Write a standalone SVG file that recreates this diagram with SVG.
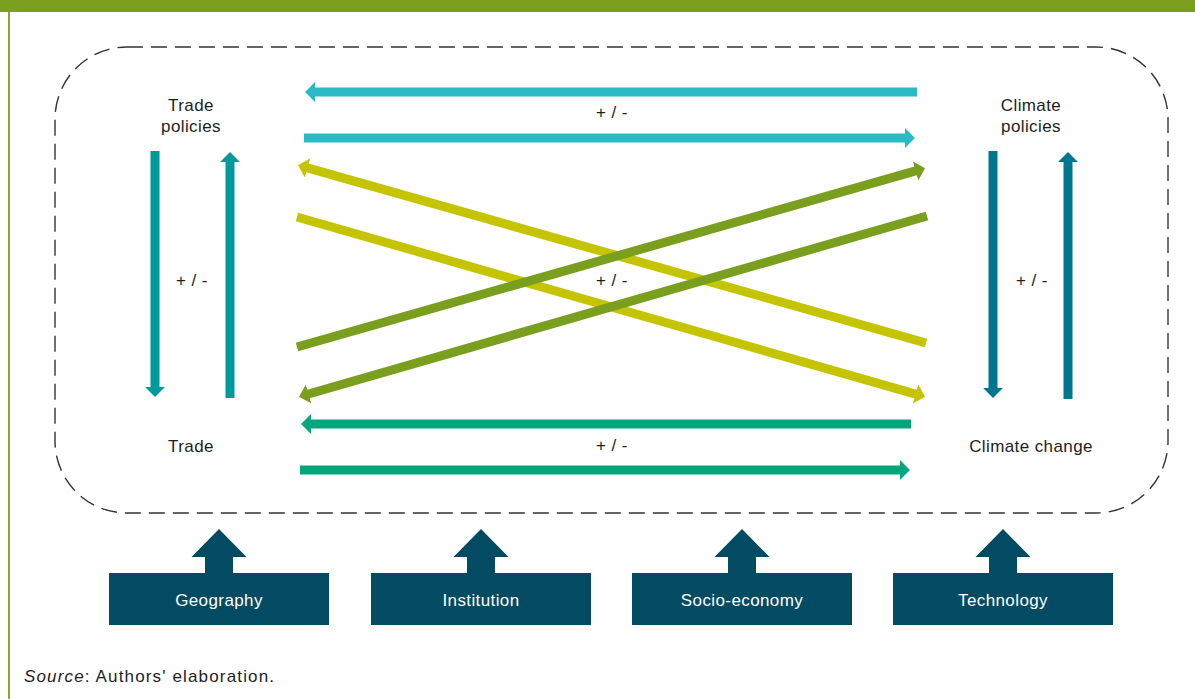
<svg xmlns="http://www.w3.org/2000/svg" width="1195" height="699" viewBox="0 0 1195 699">
  <style>
    .lbl { font-family: "Liberation Sans", Arial, sans-serif; font-size: 17px; fill: #1e1e1e; text-anchor: middle; letter-spacing: 0.4px; }
    .box { fill: #034a63; }
    .boxt { font-family: "Liberation Sans", Arial, sans-serif; font-size: 17px; fill: #ffffff; text-anchor: middle; letter-spacing: 0.4px; }
    .src { font-family: "Liberation Sans", Arial, sans-serif; font-size: 17px; fill: #1e1e1e; }
    .ln { fill: none; stroke-width: 9; stroke-linecap: butt; }
  </style>
  <defs>
    <marker id="mCyan" viewBox="0 0 10 20" markerWidth="1.1" markerHeight="2.2" refX="1" refY="10" orient="auto" markerUnits="strokeWidth"><path d="M0,0 L10,10 L0,20 Z" fill="#2cb9c6"/></marker>
    <marker id="mGreen" viewBox="0 0 10 20" markerWidth="1.1" markerHeight="2.2" refX="1" refY="10" orient="auto" markerUnits="strokeWidth"><path d="M0,0 L10,10 L0,20 Z" fill="#00a77d"/></marker>
    <marker id="mYellow" viewBox="0 0 10 20" markerWidth="1.1" markerHeight="2.2" refX="1" refY="10" orient="auto" markerUnits="strokeWidth"><path d="M0,0 L10,10 L0,20 Z" fill="#c4c400"/></marker>
    <marker id="mOlive" viewBox="0 0 10 20" markerWidth="1.1" markerHeight="2.2" refX="1" refY="10" orient="auto" markerUnits="strokeWidth"><path d="M0,0 L10,10 L0,20 Z" fill="#7a9e1e"/></marker>
    <marker id="mTeal" viewBox="0 0 10 20" markerWidth="1.1" markerHeight="2.2" refX="1" refY="10" orient="auto" markerUnits="strokeWidth"><path d="M0,0 L10,10 L0,20 Z" fill="#009a9c"/></marker>
    <marker id="mPetrol" viewBox="0 0 10 20" markerWidth="1.1" markerHeight="2.2" refX="1" refY="10" orient="auto" markerUnits="strokeWidth"><path d="M0,0 L10,10 L0,20 Z" fill="#00768f"/></marker>
  </defs>

  <rect x="0" y="0" width="1195" height="12" fill="#7a9e1d"/>
  <rect x="8" y="12" width="2" height="687" fill="#86a82e"/>

  <rect id="frame" x="55" y="47" width="1113" height="466" rx="72" ry="72" fill="none" stroke="#333333" stroke-width="1.4" stroke-dasharray="16 8"/>

  <g id="connectors">
    <line class="ln" x1="917" y1="92" x2="314" y2="92" stroke="#2cb9c6" marker-end="url(#mCyan)"/>
    <line class="ln" x1="304" y1="138" x2="906" y2="138" stroke="#2cb9c6" marker-end="url(#mCyan)"/>
    <line class="ln" x1="926" y1="343" x2="306.6" y2="167.7" stroke="#c4c400" marker-end="url(#mYellow)"/>
    <line class="ln" x1="297" y1="217" x2="916.5" y2="394.3" stroke="#c4c400" marker-end="url(#mYellow)"/>
    <line class="ln" x1="297" y1="347" x2="916.5" y2="170.7" stroke="#7a9e1e" marker-end="url(#mOlive)"/>
    <line class="ln" x1="927" y1="216" x2="307.6" y2="394.2" stroke="#7a9e1e" marker-end="url(#mOlive)"/>
    <line class="ln" x1="911" y1="424" x2="310" y2="424" stroke="#00a77d" marker-end="url(#mGreen)"/>
    <line class="ln" x1="300" y1="470" x2="901" y2="470" stroke="#00a77d" marker-end="url(#mGreen)"/>
    <line class="ln" x1="155" y1="151" x2="155" y2="388" stroke="#009a9c" marker-end="url(#mTeal)"/>
    <line class="ln" x1="230" y1="398" x2="230" y2="161" stroke="#009a9c" marker-end="url(#mTeal)"/>
    <line class="ln" x1="993" y1="151" x2="993" y2="389" stroke="#00768f" marker-end="url(#mPetrol)"/>
    <line class="ln" x1="1068" y1="399" x2="1068" y2="161" stroke="#00768f" marker-end="url(#mPetrol)"/>
  </g>

  <g id="trade-policies">
    <text class="lbl" x="191" y="110.5">Trade</text>
    <text class="lbl" x="191" y="132">policies</text>
  </g>
  <g id="climate-policies">
    <text class="lbl" x="1031" y="110.5">Climate</text>
    <text class="lbl" x="1031" y="132">policies</text>
  </g>
  <g id="trade">
    <text class="lbl" x="191" y="452">Trade</text>
  </g>
  <g id="climate-change">
    <text class="lbl" x="1031" y="452">Climate change</text>
  </g>

  <g id="signs">
    <text class="lbl" x="612" y="118" xml:space="preserve">+ / -</text>
    <text class="lbl" x="612" y="286" xml:space="preserve">+ / -</text>
    <text class="lbl" x="612" y="451" xml:space="preserve">+ / -</text>
    <text class="lbl" x="192" y="286" xml:space="preserve">+ / -</text>
    <text class="lbl" x="1032" y="286" xml:space="preserve">+ / -</text>
  </g>

  <g id="geography">
    <polygon class="box" points="219,529 246.5,557 233,557 233,574 205,574 205,557 191.5,557"/>
    <rect class="box" x="109" y="573" width="220" height="52"/>
    <text class="boxt" x="219" y="605.5">Geography</text>
  </g>
  <g id="institution">
    <polygon class="box" points="481,529 508.5,557 495,557 495,574 467,574 467,557 453.5,557"/>
    <rect class="box" x="371" y="573" width="220" height="52"/>
    <text class="boxt" x="481" y="605.5">Institution</text>
  </g>
  <g id="socio-economy">
    <polygon class="box" points="742,529 769.5,557 756,557 756,574 728,574 728,557 714.5,557"/>
    <rect class="box" x="632" y="573" width="220" height="52"/>
    <text class="boxt" x="742" y="605.5">Socio-economy</text>
  </g>
  <g id="technology">
    <polygon class="box" points="1003,529 1030.5,557 1017,557 1017,574 989,574 989,557 975.5,557"/>
    <rect class="box" x="893" y="573" width="220" height="52"/>
    <text class="boxt" x="1003" y="605.5">Technology</text>
  </g>

  <text class="src" x="24" y="682" textLength="250" lengthAdjust="spacing"><tspan font-style="italic">Source</tspan>: Authors' elaboration.</text>
</svg>
